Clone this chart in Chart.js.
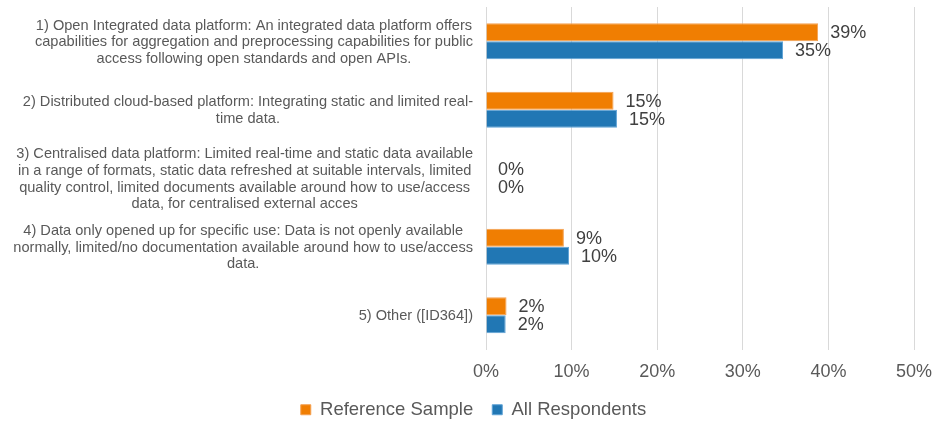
<!DOCTYPE html>
<html>
<head>
<meta charset="utf-8">
<script src="https://cdn.jsdelivr.net/npm/chart.js@4/dist/chart.umd.min.js"></script>
<style>
  html, body { margin: 0; padding: 0; background: #fff; }
  #wrap { width: 935px; height: 425px; }
</style>
</head>
<body>
<div id="wrap"><canvas id="platformChart"></canvas></div>
<script>
// Category labels (already split into the lines shown in the chart)
const categories = [
  ["1) Open Integrated data platform: An integrated data platform offers",
   "capabilities for aggregation and preprocessing capabilities for public",
   "access following open standards and open APIs."],
  ["2) Distributed cloud-based platform: Integrating static and limited real-",
   "time data."],
  ["3) Centralised data platform: Limited real-time and static data available",
   "in a range of formats, static data refreshed at suitable intervals, limited",
   "quality control, limited documents available around how to use/access",
   "data, for centralised external acces"],
  ["4) Data only opened up for specific use: Data is not openly available",
   "normally, limited/no documentation available around how to use/access",
   "data."],
  ["5) Other ([ID364])"]
];

// Series values in percent
const referenceSample = [38.8, 14.9, 0, 9.1, 2.4];
const allRespondents = [34.7, 15.3, 0, 9.7, 2.3];

// x axis ticks
const xTicks = [0, 10, 20, 30, 40, 50];

const FONT = "'Liberation Sans', Arial, sans-serif";

// Draw value labels at the end of each bar
const valueLabels = {
  id: "valueLabels",
  afterDatasetsDraw(chart) {
    const ctx = chart.ctx;
    ctx.save();
    ctx.font = "18px " + FONT;
    ctx.fillStyle = "#404040";
    ctx.textAlign = "left";
    ctx.textBaseline = "middle";
    chart.data.datasets.forEach(function (ds, i) {
      chart.getDatasetMeta(i).data.forEach(function (bar, j) {
        ctx.fillText(Math.round(ds.data[j]) + "%", bar.x + 12, bar.y + 1);
      });
    });
    ctx.restore();
  }
};

// Category labels: each block right-aligned next to the axis, lines centred in the block
const categoryLabels = {
  id: "categoryLabels",
  afterDraw(chart) {
    const ctx = chart.ctx;
    const yScale = chart.scales.y;
    const lineGap = 16.7;
    ctx.save();
    ctx.font = "14.6px " + FONT;
    ctx.fillStyle = "#595959";
    ctx.textAlign = "center";
    ctx.textBaseline = "middle";
    chart.data.labels.forEach(function (lines, i) {
      const widest = Math.max.apply(null, lines.map(l => ctx.measureText(l).width));
      const cx = yScale.right - 13 - widest / 2;
      const cy = yScale.getPixelForTick(i) + 1;
      const top = cy - (lines.length - 1) * lineGap / 2;
      lines.forEach(function (line, k) {
        ctx.fillText(line, cx, top + k * lineGap);
      });
    });
    ctx.restore();
  }
};

new Chart(document.getElementById("platformChart"), {
  type: "bar",
  data: {
    labels: categories,
    datasets: [
      {
        label: "Reference Sample",
        data: referenceSample,
        backgroundColor: "#F07E02",
        borderColor: "#F4A050",
        borderWidth: 1
      },
      {
        label: "All Respondents",
        data: allRespondents,
        backgroundColor: "#2177B4",
        borderColor: "#5FA3D6",
        borderWidth: 1
      }
    ]
  },
  options: {
    indexAxis: "y",
    responsive: true,
    maintainAspectRatio: false,
    animation: false,
    layout: { padding: { left: 0, right: -12, top: 7, bottom: -4 } },
    datasets: {
      bar: { categoryPercentage: 0.525, barPercentage: 1.0 }
    },
    scales: {
      x: {
        min: 0,
        max: 50,
        afterBuildTicks: function (axis) {
          axis.ticks = xTicks.map(v => ({ value: v }));
        },
        afterFit: function (axis) {
          axis.height = 32;
          axis.paddingLeft = 0;
          axis.paddingRight = 21;
        },
        ticks: {
          callback: v => v + "%",
          color: "#595959",
          font: { family: FONT, size: 18, lineHeight: 1.0 },
          padding: 14
        },
        grid: { color: "#D9D9D9", lineWidth: 1, drawTicks: false },
        border: { display: false }
      },
      y: {
        afterFit: function (axis) {
          axis.width = 486;
          axis.paddingTop = 0;
          axis.paddingBottom = 0;
        },
        ticks: { display: false },
        grid: { display: false, drawTicks: false },
        border: { display: false }
      }
    },
    plugins: {
      legend: {
        position: "bottom",
        labels: {
          boxWidth: 10,
          boxHeight: 10,
          padding: 19,
          color: "#595959",
          font: { family: FONT, size: 18.5 }
        }
      },
      tooltip: { enabled: false }
    }
  },
  plugins: [valueLabels, categoryLabels]
});
</script>
</body>
</html>
